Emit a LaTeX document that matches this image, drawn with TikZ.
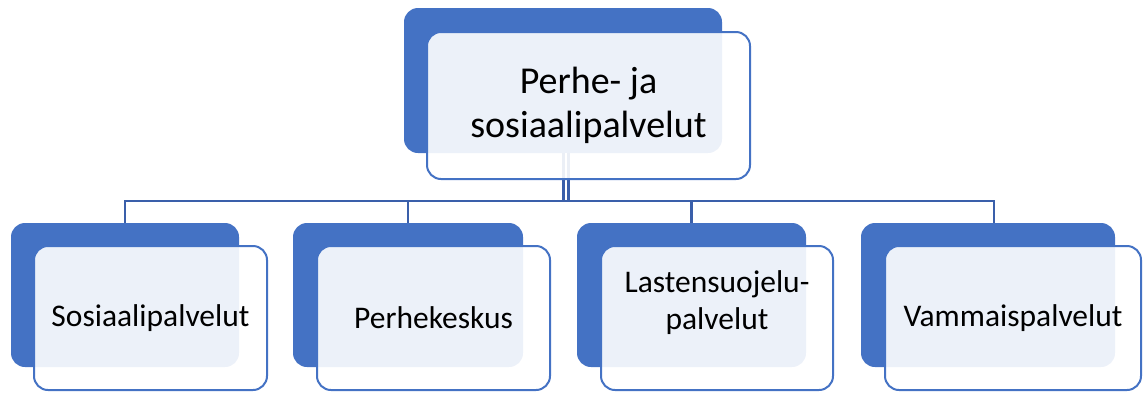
\documentclass[tikz,border=0pt]{standalone}
\usepackage{fontspec}
\setmainfont{Carlito}
\definecolor{accent}{RGB}{68,114,196}
\definecolor{linkblue}{RGB}{58,95,170}
\begin{document}
\begin{tikzpicture}[x=1pt,y=-1pt,
  backbox/.style={fill=accent, draw=none, rounded corners=14pt, inner sep=0pt},
  frontbox/.style={fill=white, fill opacity=0.9, text opacity=1, draw=accent,
    line width=2pt, rounded corners=14pt, inner sep=0pt, align=center},
  toptext/.style={font=\fontsize{38}{44}\selectfont},
  subtext/.style={font=\fontsize{31.5}{37}\selectfont},
  label/.style={inner sep=0pt, align=center},
  link/.style={draw=linkblue, line width=2.8pt},
  stem/.style={draw=linkblue, line width=2.8pt, double=white, double distance=1.6pt}
]
\useasboundingbox (0,0) rectangle (1143,392);

% coloured backing plates
\node[backbox, minimum width=318pt, minimum height=145pt] (tb) at (563,80.5) {};
\node[backbox, minimum width=228pt, minimum height=144pt] (b1) at (125,295) {};
\node[backbox, minimum width=230pt, minimum height=144pt] (b2) at (408,295) {};
\node[backbox, minimum width=229pt, minimum height=144pt] (b3) at (691.5,295) {};
\node[backbox, minimum width=254pt, minimum height=144pt] (b4) at (988,295) {};

% organisation lines
\coordinate (hub) at (566,201);
\draw[stem] (hub |- tb.south) -- (hub);
\draw[link] (b1.north) |- (hub) -| ([xshift=6pt]b4.north);
\draw[link] (b2.north) |- (hub);
\draw[link] (b3.north) |- (hub);

% translucent front cards with labels
\node[frontbox, toptext, minimum width=323pt, minimum height=147pt] (t) at (588.5,105.5)
  {Perhe- ja\\sosiaalipalvelut};
\node[frontbox, subtext, minimum width=233pt, minimum height=144pt] (f1) at (150.5,318)
  {Sosiaalipalvelut};
\node[frontbox, subtext, minimum width=233pt, minimum height=144pt] (f2) at (433.5,318)
  {Perhekeskus};
\node[frontbox, minimum width=232pt, minimum height=144pt] (f3) at (717,318) {};
\node[label, subtext] (f3text) at (717,303) {Lastensuojelu-\\palvelut};
\node[frontbox, subtext, minimum width=256pt, minimum height=144pt] (f4) at (1013,318)
  {Vammaispalvelut};
\end{tikzpicture}
\end{document}
